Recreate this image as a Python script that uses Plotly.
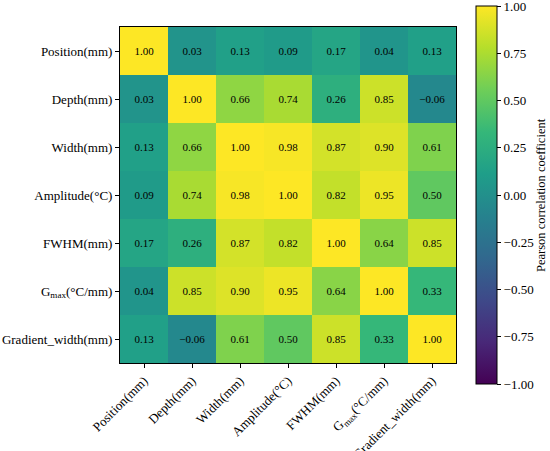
import plotly.graph_objects as go

labels = ["Position(mm)", "Depth(mm)", "Width(mm)", "Amplitude(°C)", "FWHM(mm)",
          "G<sub>max</sub>(°C/mm)", "Gradient_width(mm)"]

corr = [
    [1.00, 0.03, 0.13, 0.09, 0.17, 0.04, 0.13],
    [0.03, 1.00, 0.66, 0.74, 0.26, 0.85, -0.06],
    [0.13, 0.66, 1.00, 0.98, 0.87, 0.90, 0.61],
    [0.09, 0.74, 0.98, 1.00, 0.82, 0.95, 0.50],
    [0.17, 0.26, 0.87, 0.82, 1.00, 0.64, 0.85],
    [0.04, 0.85, 0.90, 0.95, 0.64, 1.00, 0.33],
    [0.13, -0.06, 0.61, 0.50, 0.85, 0.33, 1.00],
]

cbar_ticks = [-1.0, -0.75, -0.5, -0.25, 0.0, 0.25, 0.5, 0.75, 1.0]
cbar_title = "Pearson correlation coefficient"

text = [[f"{v:.2f}".replace("-", "\u2212") for v in row] for row in corr]

font = "Liberation Serif, Times New Roman, serif"

fig = go.Figure(go.Heatmap(
    z=corr, x=labels, y=labels, text=text, texttemplate="%{text}",
    textfont=dict(family=font, size=11, color="black"),
    colorscale="Viridis", zmin=-1, zmax=1,
    xgap=0, ygap=0,
    colorbar=dict(
        tickvals=cbar_ticks, tickformat=".2f",
        ticks="outside", ticklen=4, tickcolor="black",
        tickfont=dict(family=font, size=13, color="black"),
        ticklabeloverflow="allow",
        thickness=21, lenmode="pixels", len=378,
        xpad=0, ypad=0,
        x=1.0595, xanchor="left", y=0.5, yanchor="middle",
        outlinecolor="black", outlinewidth=1,
    ),
))

fig.add_annotation(
    text=cbar_title, xref="paper", yref="paper", x=1.253, y=0.5,
    xanchor="center", yanchor="middle", textangle=-90, showarrow=False,
    font=dict(family=font, size=12.5, color="black"),
)

fig.update_layout(
    width=550, height=451,
    margin=dict(l=120, r=94, t=27, b=88, autoexpand=False),
    paper_bgcolor="white", plot_bgcolor="white",
    font=dict(family=font, size=13, color="black"),
)
fig.update_xaxes(tickangle=-45, ticks="outside", ticklen=4, tickcolor="black",
                 showline=True, linecolor="black", linewidth=1, mirror=True,
                 automargin=False,
                 tickfont=dict(family=font, size=13, color="black"))
fig.update_yaxes(autorange="reversed", ticks="outside", ticklen=4, tickcolor="black",
                 showline=True, linecolor="black", linewidth=1, mirror=True,
                 automargin=False,
                 tickfont=dict(family=font, size=13, color="black"))

fig.write_html("out.html", config={"displayModeBar": False},
               post_script="document.body.style.margin='0';")
